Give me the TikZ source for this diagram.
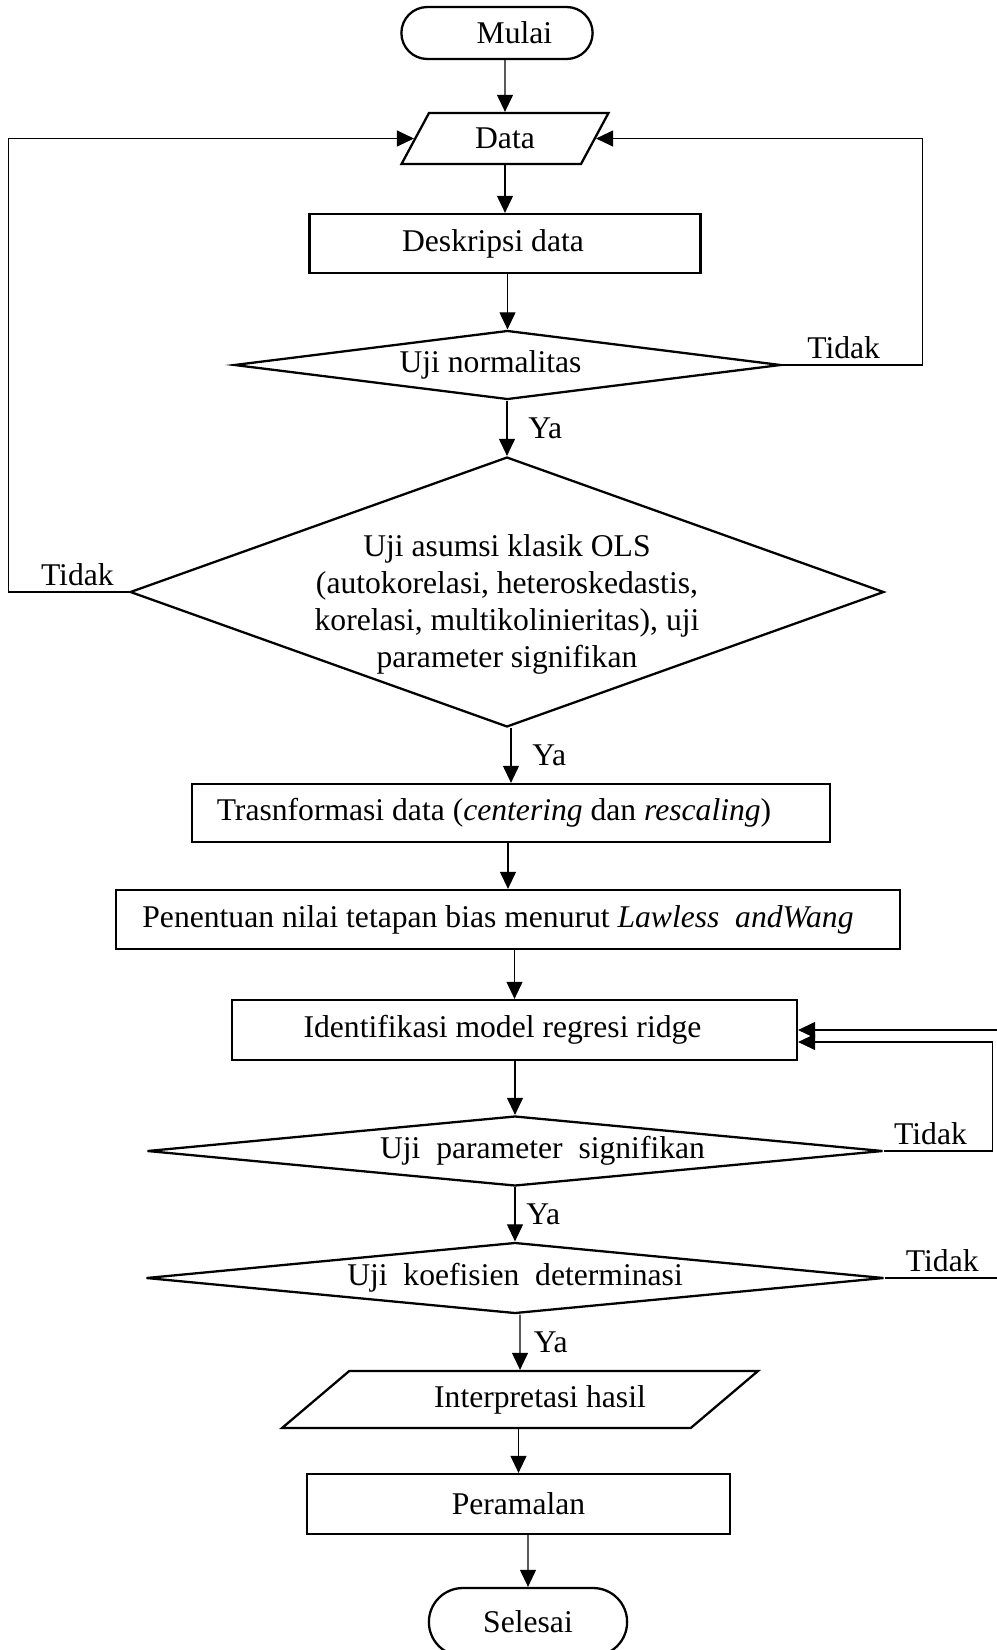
\documentclass[tikz,border=0pt]{standalone}
\usepackage{fontspec}
\setmainfont{Liberation Serif}
\usetikzlibrary{shapes.geometric, shapes.misc, arrows.meta, positioning, calc}

\begin{document}
\begin{tikzpicture}[x=0.02cm, y=-0.02cm,
    every node/.style={font=\fontsize{18}{21}\selectfont},
    box/.style={rectangle, draw, line width=1.3pt, align=center},
    term/.style={rounded rectangle, draw, line width=1.3pt},
    io/.style={trapezium, trapezium stretches body, draw, line width=1.3pt},
    cond/.style={diamond, draw, line width=1.3pt, align=center, inner sep=0pt},
    arrow/.style={-{Triangle[length=0.34cm, width=0.32cm]}, line width=0.6pt}
]
    \useasboundingbox (0,0) rectangle (997,1650);
    \node[term, minimum width=4.06cm, minimum height=1.04cm] (mulai) at (497,33) {\hspace*{0.7cm}Mulai};
    \node[io, trapezium left angle=50, trapezium right angle=130, minimum width=4.14cm, minimum height=1.02cm] (data) at (505,138.5) {Data};
    \node[box, minimum width=7.82cm, minimum height=1.18cm] (desk) at (505,243.5) {Deskripsi data\hspace*{0.48cm}};
    \node[cond, aspect=8, minimum width=10.94cm, minimum height=1.38cm] (norm) at (507.5,365) {Uji normalitas\hspace*{0.68cm}};
    \node[cond, aspect=2.8, inner sep=-0.3cm, minimum width=15.08cm, minimum height=5.4cm] (asumsi) at (507,592)
        {\rule{0pt}{0.94cm}Uji asumsi klasik OLS\\(autokorelasi, heteroskedastis,\\korelasi, multikolinieritas), uji\\parameter signifikan};
    \node[box, minimum width=12.76cm, minimum height=1.16cm] (trans) at (511,813) {Trasnformasi data (\textit{centering} dan \textit{rescaling})\hspace*{0.68cm}};
    \node[box, minimum width=15.68cm, minimum height=1.18cm] (pen) at (508,919.5) {Penentuan nilai tetapan bias menurut \textit{Lawless\ \ andWang}\hspace*{0.4cm}};
    \node[box, minimum width=11.3cm, minimum height=1.2cm] (ident) at (514.5,1030) {Identifikasi model regresi ridge\hspace*{0.48cm}};
    \node[cond, aspect=10, minimum width=14.72cm, minimum height=1.4cm] (param) at (515,1151) {\hspace*{1.1cm}Uji\ \ parameter\ \ signifikan};
    \node[cond, aspect=10, minimum width=14.76cm, minimum height=1.42cm] (koef) at (515,1278) {Uji\ \ koefisien\ \ determinasi};
    \node[io, trapezium left angle=31, trapezium right angle=149, minimum width=9.52cm, minimum height=1.14cm] (interp) at (520,1399.5) {\hspace*{0.8cm}Interpretasi hasil};
    \node[box, minimum width=8.46cm, minimum height=1.2cm] (peram) at (518.5,1504) {Peramalan};
    \node[term, minimum width=4.2cm, minimum height=1.36cm] (selesai) at (528,1622) {Selesai};

    \draw[arrow] (mulai.south -| data) -- (data);
    \draw[arrow] (data.south -| desk) -- (desk);
    \draw[arrow] (desk.south -| norm) -- (norm);
    \draw[arrow] (norm.south -| asumsi) -- node[right, xshift=0.3cm] {Ya} (asumsi);
    \draw[arrow] (asumsi.south -| trans) -- node[right, xshift=0.3cm] {Ya} (trans);
    \draw[arrow] (trans.south -| pen) -- (pen);
    \draw[arrow] (pen.south -| ident) -- (ident);
    \draw[arrow] (ident.south -| param) -- (param);
    \draw[arrow] (param.south -| koef) -- node[right, xshift=0.1cm] {Ya} (koef);
    \draw[arrow] (koef.south -| interp) -- node[right, xshift=0.15cm] {Ya} (interp);
    \draw[arrow] (interp.south -| peram) -- (peram);
    \draw[arrow] (peram.south -| selesai) -- (selesai);

    \draw[arrow] (norm.east) -- node[above, pos=0.44] {Tidak} ++(140,0) |- (data.east);
    \draw[arrow] (asumsi.west) -- node[above, pos=0.43] {Tidak} ++(-120,0) |- (data.west);
    \draw[arrow] (param.east) -- node[above, pos=0.43] {Tidak} ++(108,0) |- ($(ident.east)+(0,12)$);
    \draw[arrow] (koef.east) -- node[above, pos=0.44] {Tidak} ++(130,0) |- (ident.east);
\end{tikzpicture}
\end{document}
